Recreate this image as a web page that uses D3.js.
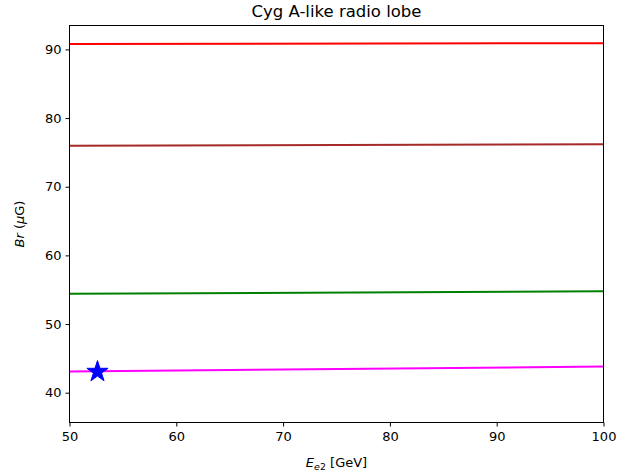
<!DOCTYPE html>
<html lang="en">
<head>
    <meta charset="UTF-8">
    <title>Cyg A-like radio lobe</title>
    <script src="https://d3js.org/d3.v7.min.js"></script>
    <style>
        body { margin: 0; background: #fff; }
        text { font-family: "DejaVu Sans", sans-serif; fill: #000; }
    </style>
</head>
<body>
    <script>
// energy range of the lines (GeV)
var xEnds = [50, 100];
// Br values at the two ends for each curve (uG)
var redLine = [90.78, 90.9];
var brownLine = [75.95, 76.2];
var greenLine = [54.4, 54.78];
var magentaLine = [43.1, 43.8];
var seriesColors = ['red', 'brown', 'green', 'magenta'];
// single marked point
var starPoint = [52.62, 43.05];

var xTicks = [50, 60, 70, 80, 90, 100];
var yTicks = [40, 50, 60, 70, 80, 90];

var width = 634, height = 476;
var plotL = 69.5, plotR = 603.5, plotT = 25.5, plotB = 422.5;

var xScale = d3.scaleLinear()
               .domain([50, 100])
               .range([plotL, plotR]);

var yScale = d3.scaleLinear()
               .domain([35.66, 93.48])
               .range([plotB, plotT]);

var svg = d3.select('body')
            .append('svg')
            .attr('width', width)
            .attr('height', height);

// lines
var line = d3.line()
             .x(function(d, i) { return xScale(xEnds[i]); })
             .y(function(d) { return yScale(d); });

[redLine, brownLine, greenLine, magentaLine].forEach(function(s, i) {
    svg.append('path')
       .datum(s)
       .attr('d', line)
       .attr('fill', 'none')
       .attr('stroke', seriesColors[i])
       .attr('stroke-width', 2);
});

// star marker
svg.append('path')
   .attr('d', d3.symbol().type(d3.symbolStar).size(140)())
   .attr('transform', 'translate(' + xScale(starPoint[0]) + ',' + yScale(starPoint[1]) + ')')
   .attr('fill', 'blue')
   .attr('stroke', 'blue')
   .attr('stroke-width', 1);

// axes
var xAxis = d3.axisBottom(xScale).tickValues(xTicks).tickSize(4).tickPadding(5);
var yAxis = d3.axisLeft(yScale).tickValues(yTicks).tickSize(4).tickPadding(4);

var gx = svg.append('g')
            .attr('transform', 'translate(0,' + plotB + ')')
            .call(xAxis);
var gy = svg.append('g')
            .attr('transform', 'translate(' + plotL + ',0)')
            .call(yAxis);

[gx, gy].forEach(function(g) {
    g.select('.domain').remove();
    g.selectAll('text').attr('font-size', 13).attr('font-family', 'DejaVu Sans').attr('fill', '#000');
    g.selectAll('line').attr('stroke', '#000');
});

// frame
svg.append('rect')
   .attr('x', plotL)
   .attr('y', plotT)
   .attr('width', plotR - plotL)
   .attr('height', plotB - plotT)
   .attr('fill', 'none')
   .attr('stroke', '#000')
   .attr('stroke-width', 1);

// title
svg.append('text')
   .attr('x', (plotL + plotR) / 2)
   .attr('y', 17)
   .attr('text-anchor', 'middle')
   .attr('font-size', 16.5)
   .text('Cyg A-like radio lobe');

// x label
var xl = svg.append('text')
            .attr('x', (plotL + plotR) / 2)
            .attr('y', 467)
            .attr('text-anchor', 'middle')
            .attr('font-size', 13);
xl.append('tspan').attr('font-style', 'italic').text('E');
xl.append('tspan').attr('font-style', 'italic').attr('font-size', 9.5).attr('dy', 3).text('e');
xl.append('tspan').attr('font-size', 9.5).text('2');
xl.append('tspan').attr('dy', -3).text(' [GeV]');

// y label
var yl = svg.append('text')
            .attr('transform', 'translate(24,' + (plotT + plotB) / 2 + ') rotate(-90)')
            .attr('text-anchor', 'middle')
            .attr('font-size', 13);
yl.append('tspan').attr('font-style', 'italic').text('Br');
yl.append('tspan').text(' (');
yl.append('tspan').attr('font-style', 'italic').text('\u03bc');
yl.append('tspan').text('G)');
    </script>
</body>
</html>
